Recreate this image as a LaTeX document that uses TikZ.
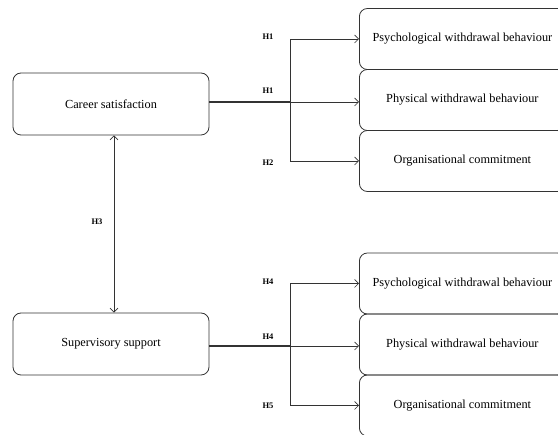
\documentclass[tikz,border=0pt]{standalone}
\usepackage{fontspec}
\setmainfont{Liberation Serif}
\usetikzlibrary{arrows.meta}
\tikzset{
	factor/.style={draw=black!80, line width=0.8pt, rounded corners=8pt, minimum width=196pt, minimum height=62pt, font=\fontsize{12.3}{14}\selectfont},
	outcome/.style={draw=black!80, line width=0.8pt, rounded corners=8pt, anchor=west, minimum width=206pt, minimum height=61pt, font=\fontsize{12.3}{14}\selectfont},
	hyp/.style={font=\fontsize{8.5}{10}\selectfont\bfseries},
	link/.style={draw=black!80, line width=0.7pt, -{Straight Barb[length=4pt,width=8pt]}},
}
\begin{document}
\begin{tikzpicture}[x=1pt,y=-1pt]
	\useasboundingbox (0,0) rectangle (558,435);
	% predictors
		\node[factor] (career) at (111,104) {Career satisfaction};
		\node[factor] (support) at (111,344) {Supervisory support};
		\draw[link, {Straight Barb[length=4pt,width=8pt]}-{Straight Barb[length=4pt,width=8pt]}] ([xshift=3pt]career.south) -- ([xshift=3pt]support.north);
		\node[hyp] (hC) at (97,222) {H3};
	% outcomes, top
		\node[outcome] (psyA) at (359,39) {Psychological withdrawal behaviour};
		\node[outcome] (phyA) at (359,100) {Physical withdrawal behaviour};
		\node[outcome] (orgA) at (359,161) {Organisational commitment};
	% outcomes, bottom
		\node[outcome] (psyB) at (359,283.5) {Psychological withdrawal behaviour};
		\node[outcome] (phyB) at (359,344.5) {Physical withdrawal behaviour};
		\node[outcome] (orgB) at (359,405.5) {Organisational commitment};
	% paths, top
		\coordinate (forkA) at (290,102);
		\draw[draw=black!80, line width=1.4pt] (career.east |- forkA) -- (forkA);
		\draw[link] (forkA) -- (forkA -| phyA.west);
		\draw[link] (forkA) |- (psyA.west);
		\draw[link] (forkA) |- (orgA.west);
		\node[hyp] (hA1) at (268,37) {H1};
		\node[hyp] (hA2) at (268,91) {H1};
		\node[hyp] (hA3) at (268,163) {H2};
	% paths, bottom
		\coordinate (forkB) at (290,346);
		\draw[draw=black!80, line width=1.4pt] (support.east |- forkB) -- (forkB);
		\draw[link] (forkB) -- (forkB -| phyB.west);
		\draw[link] (forkB) |- (psyB.west);
		\draw[link] (forkB) |- (orgB.west);
		\node[hyp] (hB1) at (268,282) {H4};
		\node[hyp] (hB2) at (268,337) {H4};
		\node[hyp] (hB3) at (268,406) {H5};
\end{tikzpicture}
\end{document}
